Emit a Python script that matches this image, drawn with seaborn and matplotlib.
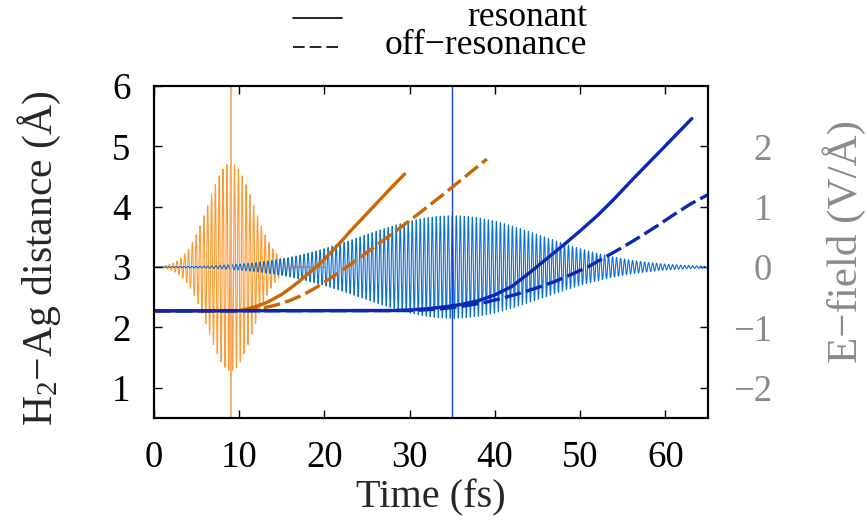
import numpy as np
import pandas as pd
import matplotlib
matplotlib.use("Agg")
import matplotlib.pyplot as plt
import seaborn as sns
from matplotlib.lines import Line2D

# ---------------- data ----------------
# H2-Ag distance (Angstrom) vs time (fs)
orange_res_t = [0, 9.0, 10.0, 11.0, 12.0, 13.0, 14.0, 15.0, 16.0, 17.0, 18.0, 19.0, 20.0,
                21.0, 22.0, 23.0, 24.0, 25.0, 26.0, 27.0, 28.0, 29.4]
orange_res_d = [2.275, 2.275, 2.28, 2.31, 2.35, 2.40, 2.47, 2.55, 2.65, 2.76, 2.88, 3.00, 3.13,
                3.28, 3.43, 3.59, 3.74, 3.89, 4.04, 4.19, 4.34, 4.54]

orange_off_t = [0, 9, 10, 11, 12, 13, 14, 15, 16, 17, 18, 19, 20, 22, 24, 26, 28, 30, 32, 34,
                36, 38, 39.06]
orange_off_d = [2.275, 2.275, 2.28, 2.29, 2.31, 2.33, 2.36, 2.40, 2.45, 2.51, 2.58, 2.66, 2.75,
                2.94, 3.14, 3.35, 3.56, 3.77, 3.99, 4.21, 4.44, 4.67, 4.79]

blue_res_t = [0, 28, 30, 32, 34, 36, 38, 40, 42, 44, 46, 48, 50, 52, 54, 56, 58, 60, 62, 63.1]
blue_res_d = [2.275, 2.28, 2.29, 2.31, 2.34, 2.38, 2.44, 2.54, 2.68, 2.90, 3.13, 3.36, 3.60,
              3.85, 4.13, 4.43, 4.72, 5.01, 5.30, 5.46]

blue_off_t = [0, 30, 33, 35, 37, 39, 41, 43, 45, 47, 49, 51, 53, 55, 57, 59, 61, 63, 65]
blue_off_d = [2.275, 2.28, 2.30, 2.33, 2.37, 2.42, 2.49, 2.57, 2.66, 2.76, 2.88, 3.01, 3.17,
              3.33, 3.50, 3.68, 3.87, 4.05, 4.20]

# laser pulses (E-field, V/A): center, peak field, gaussian width, carrier period, end time (fs)
pulse_orange = dict(center=9.0, amp=1.72, sigma=2.65, period=0.45, tmax=20.0)
pulse_blue = dict(center=35.0, amp=0.85, sigma=10.5, period=0.47, tmax=65.0)

marker_times = [9.0, 35.0]
x_ticks = [0, 10, 20, 30, 40, 50, 60]
left_ticks = [1, 2, 3, 4, 5, 6]
right_ticks = [-2, -1, 0, 1, 2]
legend_labels = ["resonant", "off\u2212resonance"]

# ---------------- styling ----------------
sns.set_theme(style="ticks")
plt.rcParams["font.family"] = ["Liberation Serif", "DejaVu Serif"]
plt.rcParams["axes.unicode_minus"] = True
FS_TICK = 26.5
FS_LEG = 25.5
FS_XLAB = 29
FS_YLAB = 30
FS_Y2LAB = 31

C_OR_PULSE = "#ff9a33"
C_OR_LINE = "#cc6600"
C_BL_PULSE = "#0a70d8"
C_BL_LINE = "#0a28b0"
GRAY = "#8a8a8a"


def pulse_frame(p):
    t = np.arange(0.0, p["tmax"] + 1e-9, 0.01)
    env = p["amp"] * np.exp(-((t - p["center"]) ** 2) / (2 * p["sigma"] ** 2))
    e = env * np.cos(2 * np.pi * (t - p["center"]) / p["period"])
    return pd.DataFrame({"t": t, "E": e})


fig = plt.figure(figsize=(8.67, 5.23), dpi=100)
ax = fig.add_axes([154 / 867, 1 - 418 / 523, (708 - 154) / 867, (418 - 86) / 523])
ax2 = ax.twinx()
ax.set_zorder(ax2.get_zorder() + 1)
ax.patch.set_visible(False)

# pulses on the E-field axis
sns.lineplot(data=pulse_frame(pulse_orange), x="t", y="E", ax=ax2, color=C_OR_PULSE,
             lw=0.8, estimator=None, sort=False)
sns.lineplot(data=pulse_frame(pulse_blue), x="t", y="E", ax=ax2, color=C_BL_PULSE,
             lw=0.8, estimator=None, sort=False)
ax2.axvline(marker_times[0], color="#f2b070", lw=1.4)
ax2.axvline(marker_times[1], color="#1a3ed0", lw=1.0)

# distances
lw = 2.4
sns.lineplot(x=orange_res_t, y=orange_res_d, ax=ax, color=C_OR_LINE, lw=lw, estimator=None, sort=False)
sns.lineplot(x=orange_off_t, y=orange_off_d, ax=ax, color=C_OR_LINE, lw=lw, estimator=None,
             sort=False, linestyle=(0, (5, 1.6)))
sns.lineplot(x=blue_res_t, y=blue_res_d, ax=ax, color=C_BL_LINE, lw=lw, estimator=None, sort=False)
sns.lineplot(x=blue_off_t, y=blue_off_d, ax=ax, color=C_BL_LINE, lw=lw, estimator=None,
             sort=False, linestyle=(0, (5, 1.6)))

# axes
ax.set_xlim(0, 65)
ax.set_ylim(0.5, 6)
ax2.set_ylim(-2.5, 3)
ax.set_xticks(x_ticks)
ax.set_yticks(left_ticks)
ax2.set_yticks(right_ticks)
ax.grid(False)
ax2.grid(False)

for s in list(ax.spines.values()) + list(ax2.spines.values()):
    s.set_linewidth(1.5)
    s.set_color("black")

ax.tick_params(axis="x", direction="in", length=6, width=1, top=True, bottom=True,
               labelsize=FS_TICK, pad=16, colors="black")
ax.tick_params(axis="y", direction="in", length=6, width=1, left=True, right=False,
               labelsize=FS_TICK, pad=17, colors="black")
ax2.tick_params(axis="y", direction="in", length=6, width=1, left=False, right=True,
                labelsize=FS_TICK, pad=46, labelcolor=GRAY, color="black")
for lab in ax2.get_yticklabels():
    lab.set_horizontalalignment("right")

ax.set_xlabel("Time (fs)", fontsize=FS_XLAB)
ax.xaxis.set_label_coords(0.5, -0.24)
ax.xaxis.label.set_va("center")
ax.set_ylabel("H$\\mathregular{_2}$\u2212Ag distance (\u00c5)", fontsize=FS_YLAB)
ax.yaxis.set_label_coords(-0.206, 0.482)
ax.yaxis.label.set_va("center")
ax2.set_ylabel("E\u2212field (V/\u00c5)", fontsize=FS_Y2LAB, color=GRAY)
ax2.yaxis.set_label_coords(1.246, 0.532)
ax2.yaxis.label.set_va("center")

# legend above the plot (gnuplot style: sample left, text right-justified)
leg_y = [1 - 18 / 523, 1 - 47 / 523]
styles = ["-", (0, (7, 3))]
for yy, st, lab in zip(leg_y, styles, legend_labels):
    fig.add_artist(Line2D([293 / 867, 342 / 867], [yy, yy], color="black", lw=1.2,
                          linestyle=st, transform=fig.transFigure))
    fig.text(587 / 867, yy + 1 / 523, lab, ha="right", va="center", fontsize=FS_LEG, color="black")

fig.savefig("out.png", dpi=100)
